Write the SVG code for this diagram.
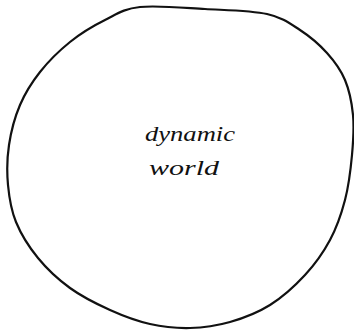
<svg xmlns="http://www.w3.org/2000/svg" width="354" height="330" viewBox="0 0 354 330">
<style>
.outline{fill:none;stroke:#111;stroke-width:2.2;stroke-linejoin:round;stroke-linecap:round}
.lbl{font-family:"Liberation Serif","DejaVu Serif",serif;font-style:italic;font-size:22px;fill:#111}
</style>
<rect width="354" height="330" fill="#fff"/>
<g id="world">
<path class="outline" d="M140,7 C156.7,5.2 183.8,7.8 205,9 C226.2,10.2 251.2,10.5 267,14 C282.8,17.5 290,23.5 300,30 C310,36.5 319.5,44.7 327,53 C334.5,61.3 340.7,69.7 345,80 C349.3,90.3 351.8,102.5 353,115 C354.2,127.5 353.3,140.8 352,155 C350.7,169.2 348.7,185.8 345,200 C341.3,214.2 336.7,227.5 330,240 C323.3,252.5 315,264.2 305,275 C295,285.8 282.5,297.2 270,305 C257.5,312.8 243.3,318.2 230,322 C216.7,325.8 203.3,327.7 190,328 C176.7,328.3 163.3,327 150,324 C136.7,321 123.3,316 110,310 C96.7,304 82,296.7 70,288 C58,279.3 47,269 38,258 C29,247 21,234.2 16,222 C11,209.8 9.2,197.8 8,185 C6.8,172.2 7,158.3 9,145 C11,131.7 14.8,117.2 20,105 C25.2,92.8 31.7,82.5 40,72 C48.3,61.5 59.2,50.7 70,42 C80.8,33.3 93.3,25.8 105,20 C116.7,14.2 123.3,8.8 140,7 Z"/>
<text class="lbl" x="190" y="141" text-anchor="middle" textLength="90" lengthAdjust="spacingAndGlyphs">dynamic</text>
<text class="lbl" x="184" y="175" text-anchor="middle" textLength="70" lengthAdjust="spacingAndGlyphs">world</text>
</g>
</svg>
